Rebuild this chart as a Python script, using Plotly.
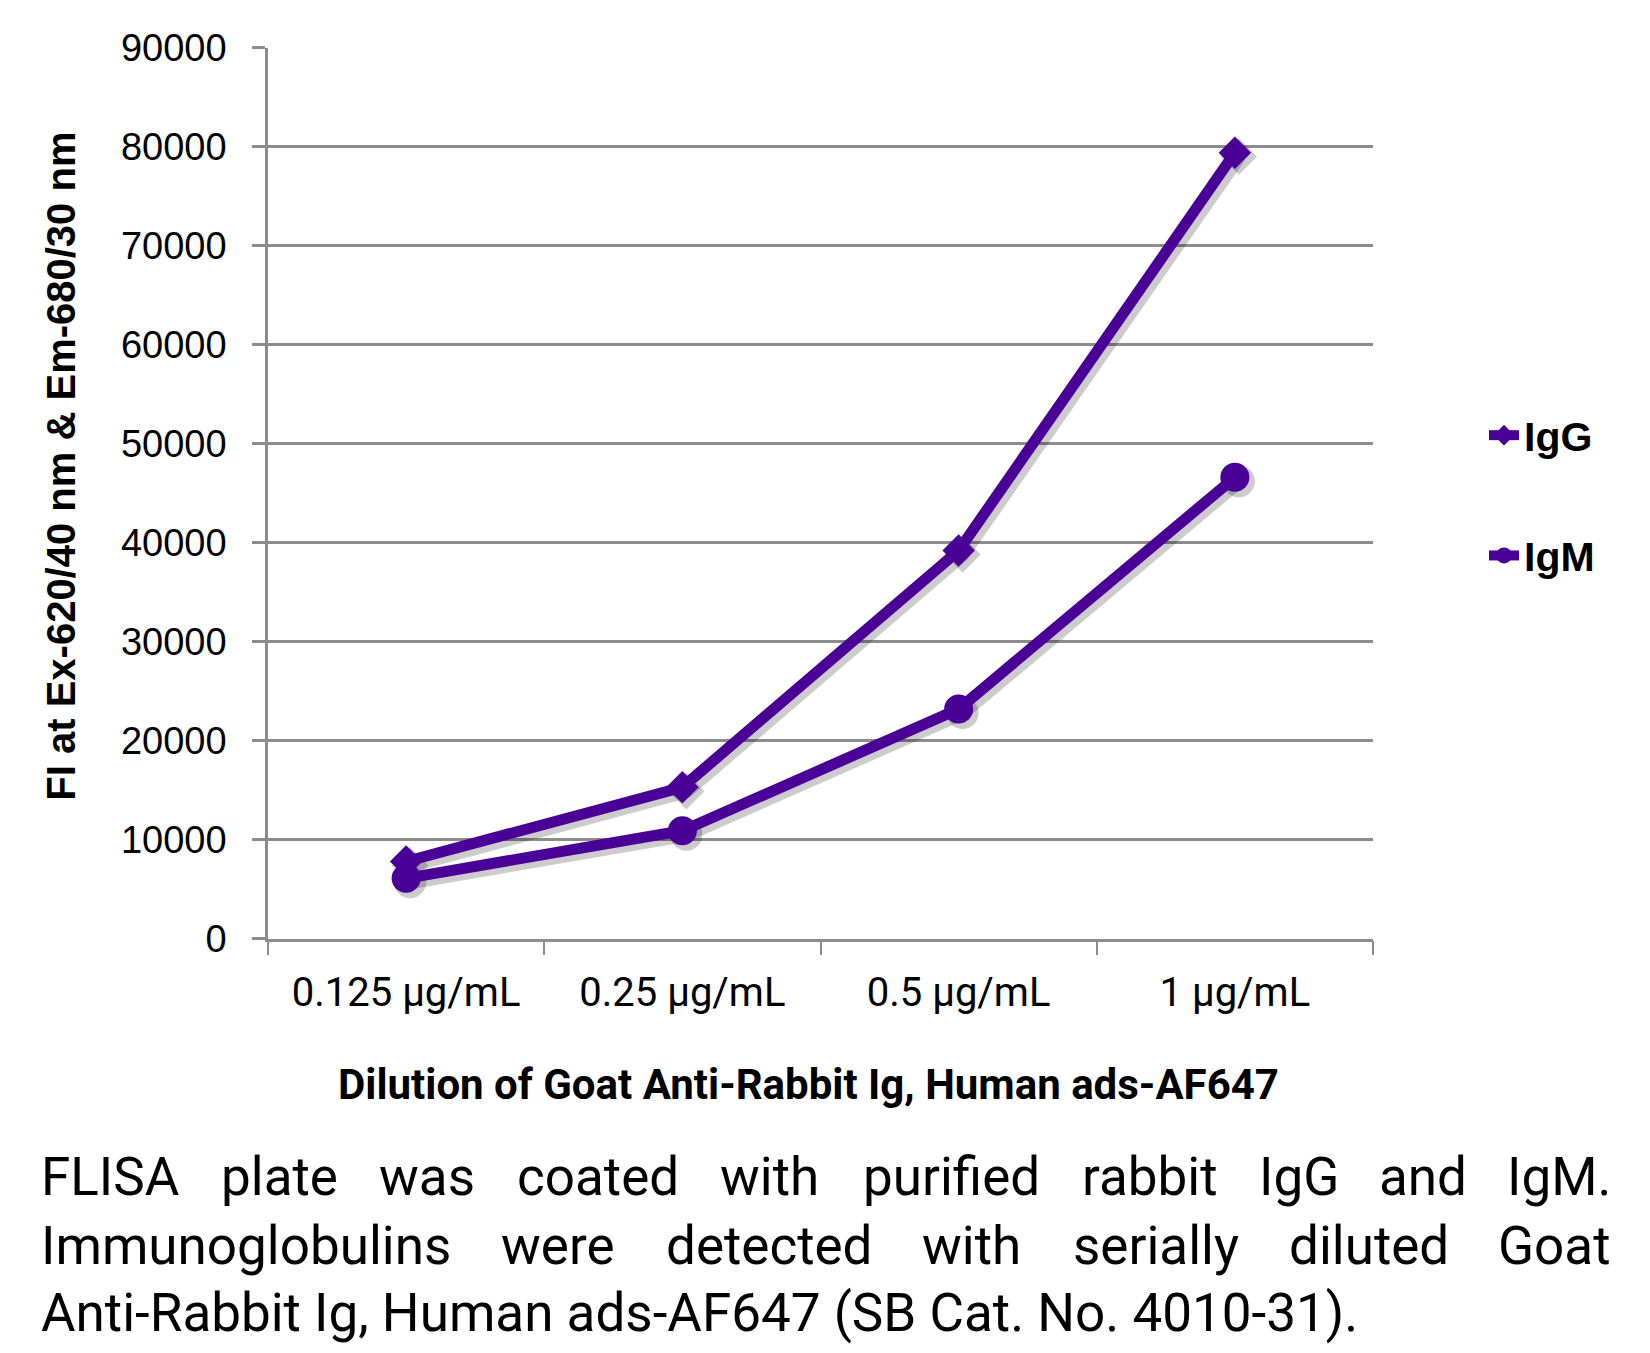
import plotly.graph_objects as go

# data
dilutions = ["0.125 µg/mL", "0.25 µg/mL", "0.5 µg/mL", "1 µg/mL"]
igg_values = [7800, 15300, 39200, 79400]
igm_values = [6100, 10900, 23200, 46600]
y_ticks = [0, 10000, 20000, 30000, 40000, 50000, 60000, 70000, 80000, 90000]

caption_line1 = ["FLISA", "plate", "was", "coated", "with", "purified", "rabbit", "IgG", "and", "IgM."]
caption_line2 = ["Immunoglobulins", "were", "detected", "with", "serially", "diluted", "Goat"]
caption_line3 = "Anti-Rabbit Ig, Human ads-AF647 (SB Cat. No. 4010-31)."

LINE_COLOR = "#4a0096"
GRID_COLOR = "#8c8c8c"
SHADOW = "rgba(0,0,0,0.20)"

# the html body has an 8px margin, so the figure is laid out in page pixels minus 8
OFF = 8
W, H = 1650 - 2 * OFF, 1353 - 2 * OFF
M_L, M_R, M_T, M_B = 268 - OFF, 1650 - 1377 - OFF, 47 - OFF, 1353 - 943 - OFF
PW = W - M_L - M_R
PH = H - M_T - M_B


def px_x(x):
    # page pixel -> paper fraction
    return (x - OFF - M_L) / PW


def px_y(y):
    return (H - M_B - (y - OFF)) / PH


main_x = [px_x(268), px_x(1373)]
main_y = [px_y(938.7), px_y(47.7)]
shadow_x = [main_x[0] + 4 / PW, main_x[1] + 4 / PW]
shadow_y = [main_y[0] - 4 / PH, main_y[1] - 4 / PH]

fig = go.Figure()

# empty trace so the base subplot (grid, ticks, axis lines) gets drawn
fig.add_trace(go.Scatter(x=dilutions, y=igg_values, mode="none",
                         showlegend=False, hoverinfo="skip"))

series = [("IgG", igg_values, "diamond", 25), ("IgM", igm_values, "circle", 29)]

# soft drop shadow drawn on a slightly shifted copy of the axes
for name, values, symbol, size in series:
    fig.add_trace(go.Scatter(
        x=dilutions, y=values, mode="lines+markers", xaxis="x2", yaxis="y2",
        line=dict(color=SHADOW, width=14),
        marker=dict(symbol=symbol, size=size + 3, color=SHADOW),
        showlegend=False, hoverinfo="skip", cliponaxis=False,
    ))

for name, values, symbol, size in series:
    fig.add_trace(go.Scatter(
        x=dilutions, y=values, mode="lines+markers", name=name,
        xaxis="x3", yaxis="y3", legendgroup=name,
        line=dict(color=LINE_COLOR, width=11),
        marker=dict(symbol=symbol, size=size, color=LINE_COLOR),
        cliponaxis=False,
    ))

hidden = dict(visible=False, showgrid=False, zeroline=False, fixedrange=True, automargin=False)

fig.update_layout(
    width=W, height=H,
    margin=dict(l=M_L, r=M_R, t=M_T, b=M_B),
    paper_bgcolor="white", plot_bgcolor="rgba(0,0,0,0)",
    font=dict(family="Liberation Sans", color="black"),
    xaxis=dict(
        domain=main_x, type="category", categoryorder="array", categoryarray=dilutions,
        range=[-0.5, 3.5], tickson="boundaries", ticks="outside", ticklen=14,
        tickwidth=2, tickcolor=GRID_COLOR, showline=True, linecolor=GRID_COLOR,
        linewidth=2.5, showgrid=False, zeroline=False, automargin=False,
        tickfont=dict(family="Roboto", size=40),
        ticklabelstandoff=17,
    ),
    yaxis=dict(
        domain=main_y, range=[0, 90000], tickvals=y_ticks, tickformat="d",
        ticks="outside", ticklen=13, tickwidth=2.5, tickcolor=GRID_COLOR,
        showline=True, linecolor=GRID_COLOR, linewidth=2.5, showgrid=True,
        gridcolor=GRID_COLOR, gridwidth=2.5, zeroline=False, automargin=False,
        tickfont=dict(size=38), ticklabelstandoff=18,
    ),
    xaxis2=dict(hidden, domain=shadow_x, type="category", categoryorder="array",
                categoryarray=dilutions, range=[-0.5, 3.5], anchor="y2"),
    yaxis2=dict(hidden, domain=shadow_y, range=[0, 90000], anchor="x2"),
    xaxis3=dict(hidden, domain=main_x, type="category", categoryorder="array",
                categoryarray=dilutions, range=[-0.5, 3.5], anchor="y3"),
    yaxis3=dict(hidden, domain=main_y, range=[0, 90000], anchor="x3"),
    legend=dict(
        x=(1484 - OFF) / W, y=(H - (402 - OFF)) / H, xref="container", yref="container",
        xanchor="left", yanchor="top", traceorder="grouped", tracegroupgap=64,
        font=dict(size=41, weight="bold"), bgcolor="rgba(0,0,0,0)", itemwidth=30,
    ),
)

annotations = [
    dict(text="FI at Ex-620/40 nm & Em-680/30 nm", textangle=-90,
         x=px_x(61), y=px_y(466.7), xref="paper", yref="paper",
         xanchor="center", yanchor="middle", showarrow=False,
         font=dict(family="Liberation Sans", size=40, weight="bold")),
    dict(text="Dilution of Goat Anti-Rabbit Ig, Human ads-AF647",
         x=px_x(808), y=px_y(1084), xref="paper", yref="paper",
         xanchor="center", yanchor="middle", showarrow=False,
         font=dict(family="Roboto", size=42, weight="bold")),
]

# justified caption: every word placed so the gaps in a line are even
cap_font = dict(family="Roboto", size=53, color="black")
line1_left = [40, 220, 378, 516, 719, 862, 1081, 1258, 1378]
line2_left = [40, 500, 665, 921, 1072, 1288]

for words, lefts, y in [(caption_line1, line1_left, 1177), (caption_line2, line2_left, 1246)]:
    for word, left in zip(words[:-1], lefts):
        annotations.append(dict(text=word, x=px_x(left), y=px_y(y), xref="paper", yref="paper",
                                xanchor="left", yanchor="middle", showarrow=False,
                                font=cap_font, borderpad=0))
    annotations.append(dict(text=words[-1], x=px_x(1612), y=px_y(y), xref="paper", yref="paper",
                            xanchor="right", yanchor="middle", showarrow=False,
                            font=cap_font, borderpad=0))

annotations.append(dict(text=caption_line3, x=px_x(40), y=px_y(1313), xref="paper", yref="paper",
                        xanchor="left", yanchor="middle", showarrow=False,
                        font=cap_font, borderpad=0))

fig.update_layout(annotations=annotations)

fig.write_html("out.html")
